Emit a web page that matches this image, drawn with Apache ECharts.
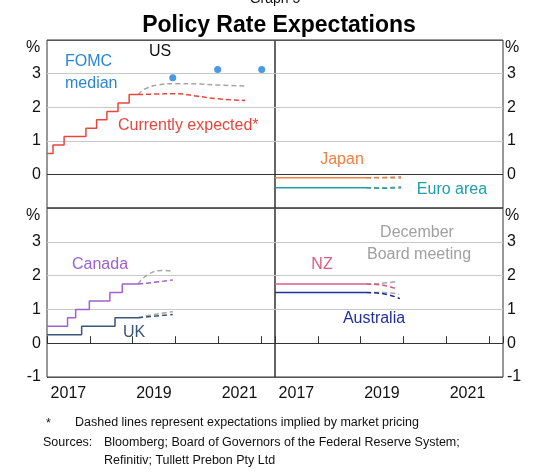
<!DOCTYPE html>
<html>
<head>
<meta charset="utf-8">
<script src="https://cdn.jsdelivr.net/npm/echarts@6/dist/echarts.min.js"></script>
<style>
  html, body { margin: 0; padding: 0; background: #fff; }
  #grafico { width: 540px; height: 473px; }
</style>
</head>
<body>
<div id="grafico"></div>
<script>
// Datos: [anio decimal, tasa %]
const usActual = [[2017.0, 0.625], [2017.14, 0.875], [2017.40, 1.125], [2017.91, 1.375], [2018.16, 1.625],
  [2018.40, 1.875], [2018.66, 2.125], [2018.92, 2.375], [2019.13, 2.375]];
const usCurrent = [[2019.13, 2.375], [2019.5, 2.39], [2020.0, 2.40], [2020.5, 2.33], [2021.0, 2.25], [2021.63, 2.20]];
const usDecember = [[2019.13, 2.375], [2019.3, 2.55], [2019.6, 2.66], [2020.0, 2.70], [2020.5, 2.69], [2021.0, 2.66], [2021.67, 2.63]];
const fomcMedian = [[2019.94, 2.875], [2020.99, 3.125], [2022.02, 3.125]];

const japanActual = [[2017.0, -0.1], [2019.13, -0.1]];
const japanCurrent = [[2019.13, -0.1], [2019.5, -0.1], [2019.95, -0.11]];
const japanDecember = [[2019.13, -0.1], [2019.5, -0.09], [2019.95, -0.07]];
const euroActual = [[2017.0, -0.4], [2019.13, -0.4]];
const euroCurrent = [[2019.13, -0.4], [2019.5, -0.41], [2019.95, -0.4]];
const euroDecember = [[2019.13, -0.4], [2019.5, -0.4], [2019.95, -0.36]];

const canadaActual = [[2017.0, 0.5], [2017.48, 0.75], [2017.67, 1.0], [2017.99, 1.25], [2018.47, 1.5],
  [2018.76, 1.75], [2019.13, 1.75]];
const canadaCurrent = [[2019.13, 1.75], [2019.5, 1.8], [2019.94, 1.87]];
const canadaDecember = [[2019.13, 1.75], [2019.35, 2.02], [2019.7, 2.15], [2019.92, 2.13]];
const ukActual = [[2017.0, 0.25], [2017.81, 0.5], [2018.59, 0.75], [2019.13, 0.75]];
const ukCurrent = [[2019.13, 0.75], [2019.5, 0.8], [2019.94, 0.85]];
const ukDecember = [[2019.13, 0.75], [2019.5, 0.85], [2019.94, 0.93]];

const nzActual = [[2017.0, 1.75], [2019.13, 1.75]];
const nzCurrent = [[2019.13, 1.75], [2019.5, 1.72], [2019.85, 1.6]];
const nzDecember = [[2019.13, 1.75], [2019.5, 1.77], [2019.88, 1.83]];
const ausActual = [[2017.0, 1.5], [2019.13, 1.5]];
const ausCurrent = [[2019.13, 1.5], [2019.5, 1.47], [2019.92, 1.32]];
const ausDecember = [[2019.13, 1.5], [2019.5, 1.5], [2019.9, 1.45]];

const yearLabels = [2017, 2019, 2021];
const yTicks = [-1, 0, 1, 2, 3, 4];

const FONT = '"Liberation Sans", Arial, sans-serif';
const gris = '#a6a6a6';

const chart = echarts.init(document.getElementById('grafico'));

const panels = [
  { left: 47, top: 40, height: 168 },
  { left: 275, top: 40, height: 168 },
  { left: 47, top: 208, height: 169 },
  { left: 275, top: 208, height: 169 }
];

function ejeY(i) {
  const right = i % 2 === 1;
  const bottom = i >= 2;
  return {
    type: 'value', gridIndex: i, min: yTicks[0], max: yTicks[yTicks.length - 1], interval: 1,
    position: right ? 'right' : 'left',
    axisLine: { show: false }, axisTick: { show: false },
    axisLabel: {
      color: '#111', fontSize: 16, fontFamily: FONT, margin: right ? 4 : 6,
      formatter: function (v) {
        if (v === 4) return '';
        if (v === -1 && !bottom) return '';
        return String(v);
      }
    },
    splitLine: { lineStyle: { color: ['#555', '#333', '#c8c8c8', '#c8c8c8', '#c8c8c8', '#555'], width: 1 } }
  };
}

function ejeX(i) {
  const bottom = i >= 2;
  return {
    type: 'value', gridIndex: i, min: 2017, max: 2022.33, interval: 1,
    axisLine: { show: false },
    axisTick: { show: bottom, inside: true, length: 7, lineStyle: { color: '#333' } },
    axisLabel: { show: false },
    splitLine: { show: false }
  };
}

function ejeEtiquetas(i) {
  return {
    type: 'value', gridIndex: i, min: 2017, max: 2022.33, interval: 0.5, position: 'bottom',
    axisLine: { show: false }, axisTick: { show: false }, splitLine: { show: false },
    axisLabel: {
      color: '#111', fontSize: 16, fontFamily: FONT, margin: 9,
      formatter: function (v) {
        const y = Math.floor(v);
        if (Math.abs(v - y - 0.5) < 0.01 && yearLabels.indexOf(y) >= 0) return String(y);
        return '';
      }
    }
  };
}

function linea(data, color, idx, dashed, step) {
  return {
    type: 'line', data: data, xAxisIndex: idx, yAxisIndex: idx,
    showSymbol: false, symbol: 'none', smooth: !step && dashed, step: step ? 'end' : false,
    lineStyle: { color: color, width: 1.5, type: dashed ? [5, 3] : 'solid' },
    z: dashed ? 3 : 4, silent: true
  };
}

function texto(t, x, y, color, align) {
  return {
    type: 'text', x: x, y: y, silent: true,
    style: { text: t, fill: color, font: '16px ' + FONT, align: align || 'center', verticalAlign: 'middle' }
  };
}

function nota(t, x, y) {
  return {
    type: 'text', x: x, y: y, silent: true,
    style: { text: t, fill: '#111', font: '12.5px ' + FONT, align: 'left', verticalAlign: 'middle' }
  };
}

const opciones = {
  backgroundColor: '#fff',
  animation: false,
  title: [
    { text: 'Graph 5', left: 270, top: -13, textAlign: 'center',
      textStyle: { fontSize: 14, fontWeight: 'normal', color: '#111', fontFamily: FONT } },
    { text: 'Policy Rate Expectations', left: 274, top: 9, textAlign: 'center',
      textStyle: { fontSize: 23, fontWeight: 'bold', color: '#000', fontFamily: FONT } }
  ],
  grid: panels.map(p => ({ left: p.left, top: p.top, width: 228, height: p.height,
    show: true, borderColor: '#333', borderWidth: 1, backgroundColor: 'transparent' })),
  xAxis: [ejeX(0), ejeX(1), ejeX(2), ejeX(3), ejeEtiquetas(2), ejeEtiquetas(3)],
  yAxis: [ejeY(0), ejeY(1), ejeY(2), ejeY(3)],
  series: [
    linea(usActual, '#e8463c', 0, false, true),
    linea(usDecember, gris, 0, true),
    linea(usCurrent, '#e8463c', 0, true),
    { type: 'scatter', data: fomcMedian, xAxisIndex: 0, yAxisIndex: 0, symbolSize: 7,
      itemStyle: { color: '#1f7fd8' }, z: 5, silent: true },

    linea(japanActual, '#f08040', 1, false),
    linea(japanDecember, gris, 1, true),
    linea(japanCurrent, '#f08040', 1, true),
    linea(euroActual, '#1e9fa8', 1, false),
    linea(euroDecember, gris, 1, true),
    linea(euroCurrent, '#1e9fa8', 1, true),

    linea(canadaActual, '#a060d0', 2, false, true),
    linea(canadaDecember, gris, 2, true),
    linea(canadaCurrent, '#a060d0', 2, true),
    linea(ukActual, '#3a5578', 2, false, true),
    linea(ukDecember, gris, 2, true),
    linea(ukCurrent, '#3a5578', 2, true),

    linea(nzActual, '#e05a80', 3, false),
    linea(nzDecember, gris, 3, true),
    linea(nzCurrent, '#e05a80', 3, true),
    linea(ausActual, '#2030a0', 3, false),
    linea(ausDecember, gris, 3, true),
    linea(ausCurrent, '#2030a0', 3, true)
  ],
  graphic: [
    texto('%', 33, 48, '#111'),
    texto('%', 33, 216, '#111'),
    texto('%', 512, 48, '#111'),
    texto('%', 512, 216, '#111'),
    texto('US', 160, 52, '#111'),
    texto('FOMC', 65, 62, '#2a85d8', 'left'),
    texto('median', 65, 84, '#2a85d8', 'left'),
    texto('Currently expected*', 118, 126, '#e8463c', 'left'),
    texto('Japan', 342, 160, '#f08040'),
    texto('Euro area', 452, 190, '#1e9fa8'),
    texto('Canada', 100, 265, '#a060d0'),
    texto('UK', 134, 333, '#3a5578'),
    texto('NZ', 322, 265, '#e05a80'),
    texto('Australia', 374, 319, '#2030a0'),
    texto('December', 417, 233, '#a0a0a0'),
    texto('Board meeting', 419, 255, '#a0a0a0'),
    nota('*', 46, 424),
    nota('Dashed lines represent expectations implied by market pricing', 75, 423),
    nota('Sources:', 43, 443),
    nota('Bloomberg; Board of Governors of the Federal Reserve System;', 104, 443),
    nota('Refinitiv; Tullett Prebon Pty Ltd', 104, 461)
  ]
};

chart.setOption(opciones);
</script>
</body>
</html>
